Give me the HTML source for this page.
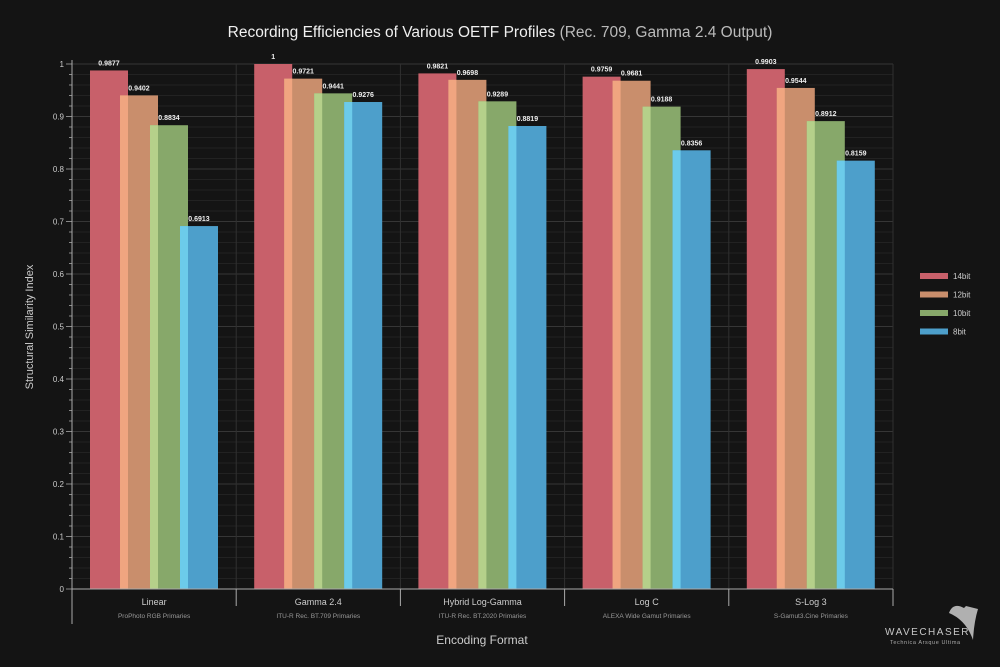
<!DOCTYPE html>
<html><head><meta charset="utf-8"><style>
html,body{margin:0;padding:0;background:#141414;}
svg{display:block;font-family:"Liberation Sans",sans-serif;}
</style></head><body>
<svg id="chart" width="1000" height="667" viewBox="0 0 1000 667" xmlns="http://www.w3.org/2000/svg">
<rect width="1000" height="667" fill="#141414"/>
<text x="500" y="37" text-anchor="middle" font-size="15.5" fill="#f0f0f0">Recording Efficiencies of Various OETF Profiles <tspan fill="#bbbbbb">(Rec. 709, Gamma 2.4 Output)</tspan></text>
<g id="grid"></g>
<g id="bars"></g>
<g id="axes"></g>
<text transform="translate(33,327) rotate(-90)" text-anchor="middle" font-size="11" fill="#cccccc">Structural Similarity Index</text>
<text x="482" y="644" text-anchor="middle" font-size="12" fill="#cccccc">Encoding Format</text>
<g id="legend"></g>
<g>
<path d="M949 613 Q953 602 964 608 L966 606 L978 609 Q974 622 973 640 Q966 620 949 613Z" fill="#b0b0b0"/>
<text x="885" y="635" font-size="10" fill="#c8c8c8" letter-spacing="1.5">WAVECHASER</text>
<text x="890" y="644" font-size="5.5" fill="#aaaaaa" letter-spacing="0.6">Technica Arsque Ultima</text>
</g>
</svg>
<script>
const categories=["Linear","Gamma 2.4","Hybrid Log-Gamma","Log C","S-Log 3"];
const subLabels=["ProPhoto RGB Primaries","ITU-R Rec. BT.709 Primaries","ITU-R Rec. BT.2020 Primaries","ALEXA Wide Gamut Primaries","S-Gamut3.Cine Primaries"];
const seriesNames=["14bit","12bit","10bit","8bit"];
const s14=[0.9877,1,0.9821,0.9759,0.9903];
const s12=[0.9402,0.9721,0.9698,0.9681,0.9544];
const s10=[0.8834,0.9441,0.9289,0.9188,0.8912];
const s8=[0.6913,0.9276,0.8819,0.8356,0.8159];
const yTicks=[0,0.1,0.2,0.3,0.4,0.5,0.6,0.7,0.8,0.9,1];
const yTickLabels=["0","0.1","0.2","0.3","0.4","0.5","0.6","0.7","0.8","0.9","1"];
const series=[s14,s12,s10,s8];
const colors=["#c8606a","#c98e6c","#87a86a","#4d9fcb"];
const stripe=["#c8606a","#f0a580","#b5d08a","#6ccbea"];
const NS="http://www.w3.org/2000/svg";
const X0=72,X1=893,Y0=589,Y1=64;
const gw=(X1-X0)/categories.length;
function y(v){return Y0-(Y0-Y1)*v;}
function gx(i){return X0+gw*i;}
function mk(p,tag,a){const e=document.createElementNS(NS,tag);for(const k in a)e.setAttribute(k,a[k]);p.appendChild(e);return e;}
const grid=document.getElementById('grid'),bars=document.getElementById('bars'),axes=document.getElementById('axes'),legend=document.getElementById('legend');
for(let v=0;v<=50;v++){const val=v/50;const ln=mk(grid,'line',{x1:X0,x2:X1,y1:y(val),y2:y(val),stroke:v%5==0?'#363636':'#222222','stroke-width':1});


const t=mk(axes,'line',{x1:v%5==0?X0-6:X0-3,x2:X0,y1:y(val),y2:y(val),stroke:'#888'});

}
for(let i=1;i<=categories.length;i++){const ln=mk(grid,'line',{x1:gx(i),x2:gx(i),y1:Y1,y2:Y0,stroke:'#303030'});

}
yTicks.forEach((v,i)=>{const t=mk(axes,'text',{x:X0-8,y:y(v)+3,'text-anchor':'end','font-size':8,fill:'#cccccc'});t.textContent=yTickLabels[i];

});
const bw=38,step=30,ov=8;
categories.forEach((c,i)=>{
 const start=gx(i)+18;
 series.forEach((s,j)=>{
  const bx=start+j*step,v=s[i];
  const r=mk(bars,'rect',{x:bx,y:y(v),width:bw,height:Y0-y(v),fill:colors[j]});
  
  
  if(j>0){const st=mk(bars,'rect',{x:bx,y:y(v),width:ov,height:Y0-y(v),fill:stripe[j]});
   
   }
  const t=mk(bars,'text',{x:bx+bw/2,y:y(v)-5,'text-anchor':'middle','font-size':7,'font-weight':'bold',fill:'#eeeeee'});
  t.textContent=String(v);
  
  
 });
 const cx=gx(i)+gw/2;
 const l=mk(axes,'text',{x:cx,y:605,'text-anchor':'middle','font-size':9,fill:'#cccccc'});l.textContent=c;
 
 
 const sl=mk(axes,'text',{x:cx,y:618,'text-anchor':'middle','font-size':6.5,fill:'#999999'});sl.textContent=subLabels[i];
 
 
});
for(let i=1;i<=categories.length;i++){const t=mk(axes,'line',{x1:gx(i),x2:gx(i),y1:Y0,y2:606,stroke:'#aaa'});

}
let a=mk(axes,'line',{x1:X0,x2:X0,y1:Y1-4,y2:624,stroke:'#aaa'});


a=mk(axes,'line',{x1:X0,x2:X1,y1:Y0,y2:Y0,stroke:'#aaa'});


seriesNames.forEach((n,j)=>{const ly=276+j*18.5;
 const r=mk(legend,'rect',{x:920,y:ly-3,width:28,height:6,fill:colors[j]});
 
 
 const t=mk(legend,'text',{x:953,y:ly+3,'font-size':8,fill:'#cccccc'});t.textContent=n;
 
 
});
</script>
</body></html>
